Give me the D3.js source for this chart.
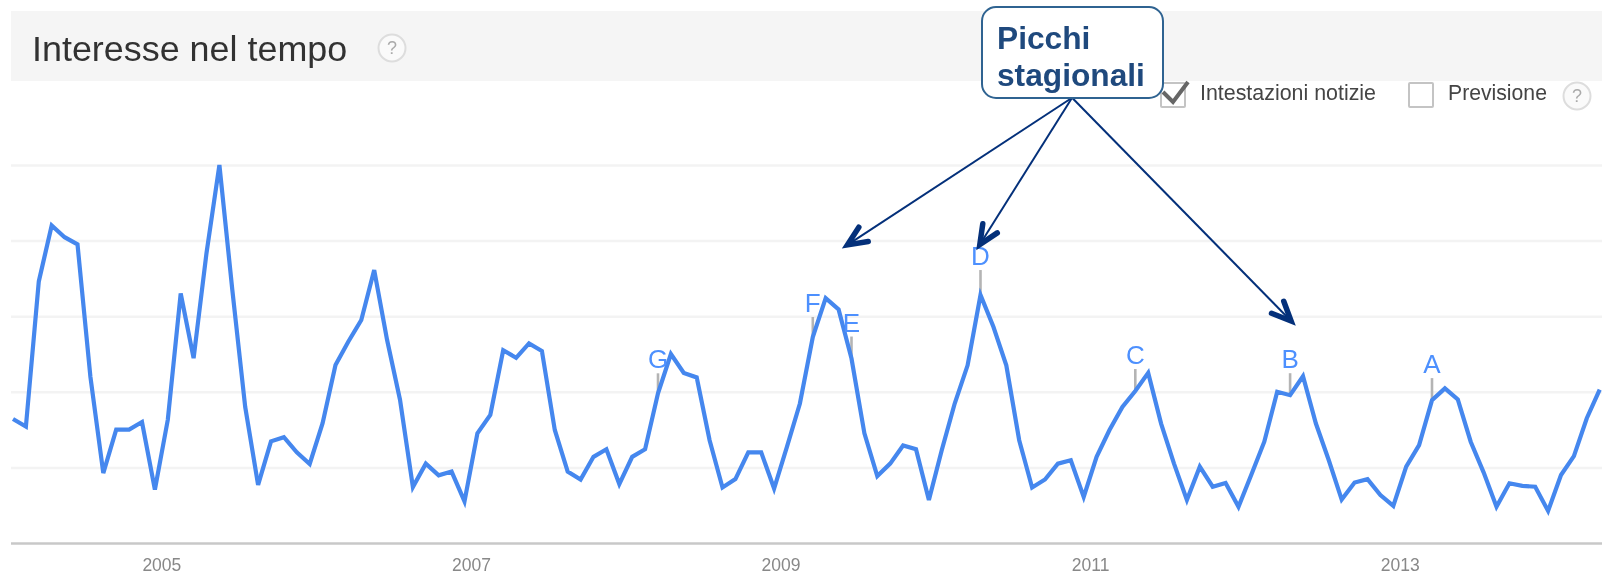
<!DOCTYPE html>
<html>
<head>
<meta charset="utf-8">
<script src="https://d3js.org/d3.v7.min.js"></script>
<style>
  html,body{margin:0;padding:0;background:#fff}
  svg{display:block}
  text{font-family:"Liberation Sans",Arial,sans-serif}
</style>
</head>
<body>
<div id="chart"></div>
<script>
// monthly values, first point is Jan 2004
const interest = [
  32.8,30.8,69.2,84,80.9,79,44,18.5,30,30,32,14.1,
  32.6,66,48.9,76.7,100,67,36,15.4,26.9,28,24,20.9,
  31.7,47.1,53.3,59,72.2,53.7,37.9,14.8,21,17.9,18.9,11,
  29,33.9,51,49,52.8,50.8,29.9,18.9,16.8,22.8,24.8,15.6,
  22.8,24.8,39.6,50,45,43.8,27.2,14.7,16.9,24,24,14.4,
  25.5,36.9,54.5,64.8,61.8,48.8,29,17.7,21,25.8,24.8,11.4,
  24.6,36.9,47,65.6,57.2,47,27.2,14.7,16.8,21,21.9,12.2,
  22.8,29.9,36,40.2,45,31.6,21,11.4,20.2,14.9,15.9,9.6,
  18.1,26.8,40,39.1,44.1,31.6,21.9,11.5,16,16.9,12.7,9.8,
  20.2,25.9,37.8,40.9,38,26.8,18.7,9.6,15.8,15.1,14.9,8.5,
  18,23,33,40.6
]
const gridValues = [0,20,40,60,80,100]
const yearLabels = ["2005","2007","2009","2011","2013"]
const yearMonths = [11.5,35.5,59.5,83.5,107.5]
const flagLetters = ["A","B","C","D","E","F","G"]
const flagMonths = [110,99,87,75,65,62,50]
const flagRise = [22,22,22,25,22,20,20]
const calloutLines = ["Picchi","stagionali"]
// where the callout arrows start and end, in chart units
const arrowStart = {month:82.1,value:117.8}
const arrowTargets = [{month:64.3,value:78},{month:74.7,value:77.6},{month:99.4,value:57.6}]

drawChart("#chart")

function drawChart(id){
    const canvas = createCanvas()
    const svg = d3.select(id).append("svg").attr("width",canvas.width).attr("height",canvas.height)
    const x = d3.scaleLinear().domain([0,interest.length-1]).range([canvas.left,canvas.lineEnd])
    const y = d3.scaleLinear().domain([0,100]).range([canvas.baseline,canvas.top])

    // the screenshot is a little soft, everything but the callout gets a light blur
    svg.append("defs").append("filter").attr("id","soft").attr("filterUnits","userSpaceOnUse")
    .attr("x",0).attr("y",0).attr("width",canvas.width).attr("height",canvas.height)
    .append("feGaussianBlur").attr("stdDeviation",0.55)
    const page = svg.append("g").attr("filter","url(#soft)")

    addHeader(page,canvas)
    addGrid(page,canvas,x,y)
    addFlagStems(page,x,y)
    addLine(page,canvas,x,y)
    addFlagLetters(page,x,y)
    addLegend(page)
    addCallout(svg,x,y)
}

function createCanvas(){
    return {width:1602,height:574,left:13,lineEnd:1599.7,baseline:543,top:165}
}

function addHeader(svg,canvas){
    svg.append("rect").attr("x",11).attr("y",11).attr("width",canvas.width-11).attr("height",70).attr("fill","#f5f5f5")
    svg.append("text").attr("x",32).attr("y",61).attr("font-size","35.9px").attr("fill","#333").text("Interesse nel tempo")
    addHelp(svg,392,48)
}

function addHelp(svg,cx,cy){
    svg.append("circle").attr("cx",cx).attr("cy",cy).attr("r",13.5).attr("fill","#fafafa").attr("stroke","#ddd").attr("stroke-width",2)
    svg.append("text").attr("x",cx).attr("y",cy+6).attr("text-anchor","middle").attr("font-size","18px")
    .attr("fill","#aaa").text("?")
}

function addGrid(svg,canvas,x,y){
    const yAxis = d3.axisLeft(y).tickValues(gridValues).tickSize(-(canvas.width-11)).tickFormat("")
    const gy = svg.append("g").attr("transform",`translate(11,0)`).call(yAxis)
    gy.select(".domain").remove()
    gy.selectAll(".tick line").attr("stroke",d => d === 0 ? "#c8c8c8" : "#f3f3f3").attr("stroke-width",2.5)

    const xAxis = d3.axisBottom(x).tickValues(yearMonths).tickSize(0).tickPadding(0)
    .tickFormat((d,j) => yearLabels[j])
    const gx = svg.append("g").attr("transform",`translate(0,${canvas.baseline})`).call(xAxis)
    gx.select(".domain").remove()
    gx.selectAll("text").attr("y",28).attr("dy",0).attr("font-size","17.5px").attr("fill","#888")
    .style("font-family",'"Liberation Sans",Arial,sans-serif')
}

function addLine(svg,canvas,x,y){
    const line = d3.line().x((d,j) => x(j)).y(d => y(d))
    svg.append("path").datum(interest).attr("d",line).attr("fill","none")
    .attr("stroke","#4587ee").attr("stroke-width",4.2).attr("stroke-linejoin","miter")
}

function flagRows(){
    return flagLetters.map((letter,j) => ({letter:letter,month:flagMonths[j],rise:flagRise[j]}))
}

function addFlagStems(svg,x,y){
    svg.selectAll(".flag-stem").data(flagRows()).enter().append("line").attr("class","flag-stem")
    .attr("x1",d => x(d.month)).attr("x2",d => x(d.month))
    .attr("y1",d => y(interest[d.month])).attr("y2",d => y(interest[d.month]) - d.rise)
    .attr("stroke","#b4b4b4").attr("stroke-width",2.6)
}

function addFlagLetters(svg,x,y){
    svg.selectAll(".flag-label").data(flagRows()).enter().append("text").attr("class","flag-label")
    .attr("x",d => x(d.month)).attr("y",d => y(interest[d.month]) - d.rise - 5)
    .attr("text-anchor","middle").attr("font-size","26px").attr("fill","#4d90fe").text(d => d.letter)
}

function addLegend(svg){
    addCheckbox(svg,1161,83)
    svg.append("path").attr("d","M1163,92L1173,102L1188,82").attr("fill","none").attr("stroke","#666").attr("stroke-width",4)
    svg.append("text").attr("x",1200).attr("y",100).attr("font-size","21.4px").attr("fill","#444").text("Intestazioni notizie")
    addCheckbox(svg,1409,83)
    svg.append("text").attr("x",1448).attr("y",100).attr("font-size","21.2px").attr("fill","#444").text("Previsione")
    addHelp(svg,1577,96)
}

function addCheckbox(svg,bx,by){
    svg.append("rect").attr("x",bx).attr("y",by).attr("width",24).attr("height",24).attr("rx",1)
    .attr("fill","#fff").attr("stroke","#c4c4c4").attr("stroke-width",2)
}

function addCallout(svg,x,y){
    const color = "#04307a"
    const sx = x(arrowStart.month), sy = y(arrowStart.value)

    arrowTargets.forEach(t => {
        const tx = x(t.month), ty = y(t.value)
        const angle = Math.atan2(sy-ty,sx-tx)
        // vertex sits back from the tip so the mitred point lands on the target
        const vx = tx+6*Math.cos(angle), vy = ty+6*Math.sin(angle)
        svg.append("line").attr("x1",sx).attr("y1",sy).attr("x2",vx).attr("y2",vy).attr("stroke",color).attr("stroke-width",2)
        const head = [angle-0.42,angle+0.42].map(a => [vx+21*Math.cos(a),vy+21*Math.sin(a)])
        svg.append("path").attr("d",`M${head[0]}L${vx},${vy}L${head[1]}`).attr("fill","none")
        .attr("stroke",color).attr("stroke-width",5.5).attr("stroke-linecap","round").attr("stroke-linejoin","miter")
    })

    svg.append("rect").attr("x",982).attr("y",7).attr("width",181).attr("height",91).attr("rx",14)
    .attr("fill","#fff").attr("stroke","#2f6391").attr("stroke-width",2)
    svg.selectAll(".callout-text").data(calloutLines).enter().append("text").attr("class","callout-text")
    .attr("x",997).attr("y",(d,j) => 49 + j*37).attr("font-size","31.7px").attr("font-weight","bold")
    .attr("fill","#1f497d").text(d => d)
}
</script>
</body>
</html>
